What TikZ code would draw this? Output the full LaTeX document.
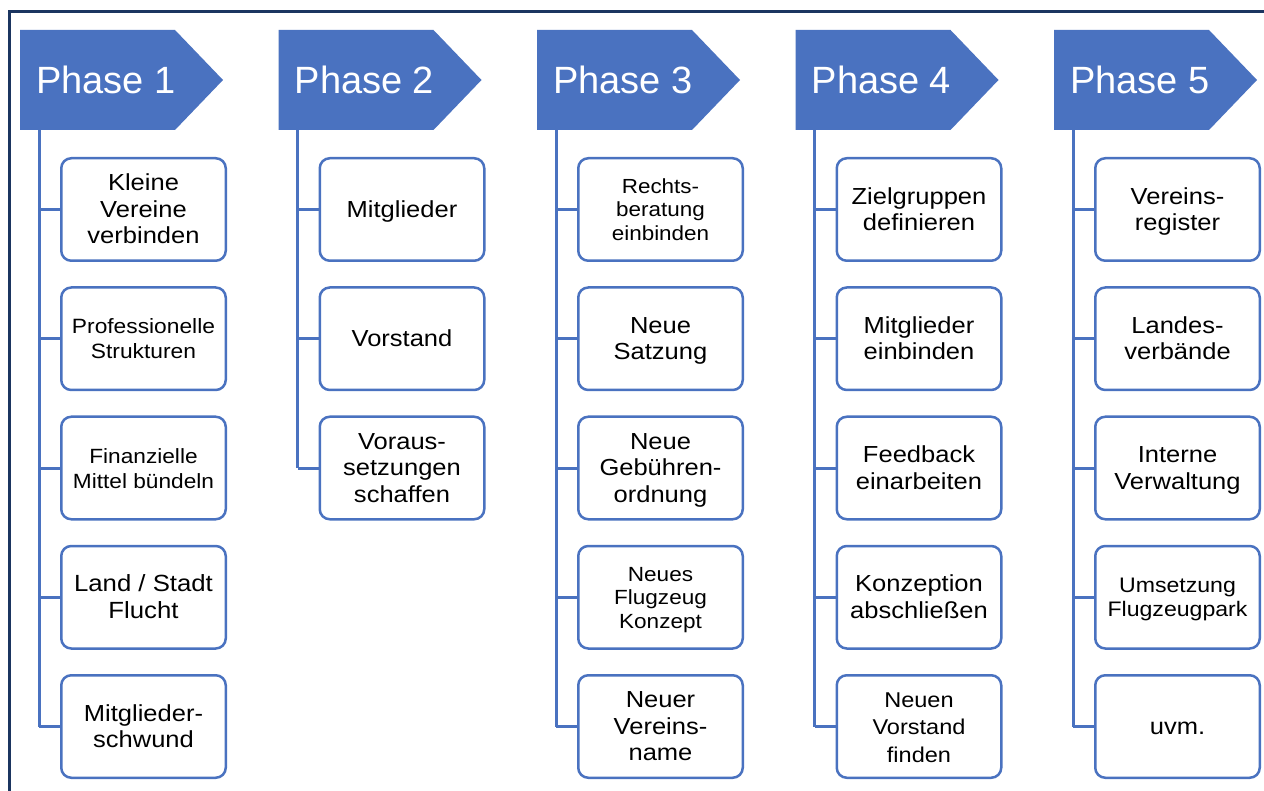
\documentclass[tikz,border=0pt]{standalone}
\usepackage{fontspec}
\usepackage{graphicx}
\setmainfont{Liberation Sans}
\definecolor{phblue}{HTML}{4A72C0}
\definecolor{framec}{HTML}{1B3560}
\definecolor{txt}{HTML}{000000}
\tikzset{
  phfill/.style={fill=phblue},
  phlabel/.style={text=white, font=\fontsize{38}{40}\selectfont, inner sep=0pt, anchor=base west},
  boxn/.style={draw=phblue, line width=2.5pt, rounded corners=10pt, fill=white,
    minimum width=164.5pt, minimum height=102.5pt, inner sep=0pt,
    text=txt},
  trunk/.style={draw=phblue, line width=3pt},
  frameline/.style={draw=framec, line width=3pt}
}
\newcommand{\bx}[5]{\node[boxn] (b#1#2) at ({143.5+258.5*(#1-1)},{209.5+129.25*(#2-1)})
  {\raisebox{-2.6pt}[\height][\depth]{\scalebox{1.1}[1]{\fontsize{#3}{#4}\selectfont\begin{tabular}{@{}c@{}}#5\end{tabular}}}};}
\newcommand{\phs}[1]{%
  \fill[phfill] ({20+258.5*(#1-1)},30) -- ({175+258.5*(#1-1)},30) -- ({223+258.5*(#1-1)},80)
     -- ({175+258.5*(#1-1)},130) -- ({20+258.5*(#1-1)},130) -- cycle;
  \node[phlabel] (p#1) at ({36+258.5*(#1-1)},93.5) {Phase #1};
  \coordinate (t#1) at ({39.3+258.5*(#1-1)},130);}
\begin{document}
\begin{tikzpicture}[x=1pt,y=-1pt]
\useasboundingbox (0,0) rectangle (1264,791);
\fill[white] (0,0) rectangle (1264,791);
\draw[frameline] (9.5,791) -- (9.5,12) -- (1264,12);
% phase headers
\phs{1}\phs{2}\phs{3}\phs{4}\phs{5}
% boxes phase 1
\bx{1}{1}{23.2}{26.5}{Kleine\\Vereine\\verbinden}
\bx{1}{2}{20.7}{25}{Professionelle\\Strukturen}
\bx{1}{3}{20.6}{25}{Finanzielle\\Mittel bündeln}
\bx{1}{4}{23.4}{26.5}{Land / Stadt\\Flucht}
\bx{1}{5}{23.2}{26.5}{Mitglieder-\\schwund}
% phase 2
\bx{2}{1}{23.2}{26.5}{Mitglieder}
\bx{2}{2}{23.2}{26.5}{Vorstand}
\bx{2}{3}{23.2}{26.5}{Voraus-\\setzungen\\schaffen}
% phase 3
\bx{3}{1}{20.4}{23.5}{Rechts-\\beratung\\einbinden}
\bx{3}{2}{23.2}{26.5}{Neue\\Satzung}
\bx{3}{3}{23.2}{26.5}{Neue\\Gebühren-\\ordnung}
\bx{3}{4}{20.5}{23.5}{Neues\\Flugzeug\\Konzept}
\bx{3}{5}{23.2}{26.5}{Neuer\\Vereins-\\name}
% phase 4
\bx{4}{1}{23.2}{26.5}{Zielgruppen\\definieren}
\bx{4}{2}{23.2}{26.5}{Mitglieder\\einbinden}
\bx{4}{3}{23.2}{26.5}{Feedback\\einarbeiten}
\bx{4}{4}{23.2}{26.5}{Konzeption\\abschließen}
\bx{4}{5}{21.4}{27.5}{Neuen\\Vorstand\\finden}
% phase 5
\bx{5}{1}{23.2}{26.5}{Vereins-\\register}
\bx{5}{2}{23.2}{26.5}{Landes-\\verbände}
\bx{5}{3}{23.2}{26.5}{Interne\\Verwaltung}
\bx{5}{4}{21}{24}{Umsetzung\\Flugzeugpark}
\bx{5}{5}{23.2}{26.5}{uvm.}
% trunks
\draw[trunk] (t1) -- (t1 |- b15.west);
\draw[trunk] (t2) -- (t2 |- b23.west);
\draw[trunk] (t3) -- (t3 |- b35.west);
\draw[trunk] (t4) -- (t4 |- b45.west);
\draw[trunk] (t5) -- (t5 |- b55.west);
% connectors
\foreach \k in {1,...,5} {\draw[trunk] (t1 |- b1\k.west) -- (b1\k.west);}
\foreach \k in {1,...,3} {\draw[trunk] (t2 |- b2\k.west) -- (b2\k.west);}
\foreach \k in {1,...,5} {\draw[trunk] (t3 |- b3\k.west) -- (b3\k.west);}
\foreach \k in {1,...,5} {\draw[trunk] (t4 |- b4\k.west) -- (b4\k.west);}
\foreach \k in {1,...,5} {\draw[trunk] (t5 |- b5\k.west) -- (b5\k.west);}
\end{tikzpicture}
\end{document}
